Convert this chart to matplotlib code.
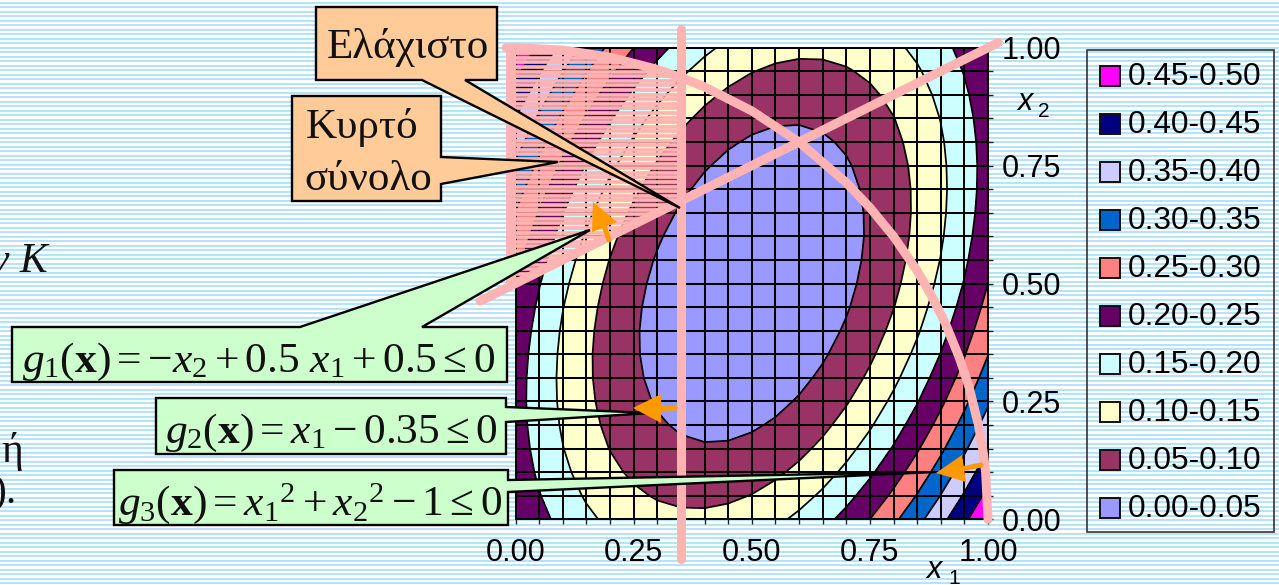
import numpy as np
import matplotlib
matplotlib.use("Agg")
import matplotlib.pyplot as plt
from matplotlib.patches import Polygon, Rectangle
from matplotlib.colors import ListedColormap, BoundaryNorm

plt.rcParams['font.family'] = ['Liberation Sans', 'DejaVu Sans']
plt.rcParams['mathtext.fontset'] = 'custom'
plt.rcParams['mathtext.rm'] = 'Liberation Serif'
plt.rcParams['mathtext.it'] = 'Liberation Serif:italic'
plt.rcParams['mathtext.bf'] = 'Liberation Serif:bold'

# ---- data ----
x1_grid = [0.00, 0.05, 0.10, 0.15, 0.20, 0.25, 0.30, 0.35, 0.40, 0.45, 0.50,
           0.55, 0.60, 0.65, 0.70, 0.75, 0.80, 0.85, 0.90, 0.95, 1.00]
x2_grid = list(x1_grid)
surface = [
 [.2500,.2150,.1850,.1600,.1400,.1250,.1150,.1100,.1100,.1150,.1250,.1400,.1600,.1850,.2150,.2500,.2900,.3350,.3850,.4400,.5000],
 [.2388,.2025,.1713,.1450,.1238,.1075,.0963,.0900,.0888,.0925,.1013,.1150,.1338,.1575,.1863,.2200,.2588,.3025,.3513,.4050,.4638],
 [.2300,.1925,.1600,.1325,.1100,.0925,.0800,.0725,.0700,.0725,.0800,.0925,.1100,.1325,.1600,.1925,.2300,.2725,.3200,.3725,.4300],
 [.2238,.1850,.1513,.1225,.0988,.0800,.0663,.0575,.0538,.0550,.0613,.0725,.0888,.1100,.1363,.1675,.2038,.2450,.2913,.3425,.3988],
 [.2200,.1800,.1450,.1150,.0900,.0700,.0550,.0450,.0400,.0400,.0450,.0550,.0700,.0900,.1150,.1450,.1800,.2200,.2650,.3150,.3700],
 [.2188,.1775,.1413,.1100,.0838,.0625,.0463,.0350,.0288,.0275,.0313,.0400,.0538,.0725,.0963,.1250,.1588,.1975,.2413,.2900,.3438],
 [.2200,.1775,.1400,.1075,.0800,.0575,.0400,.0275,.0200,.0175,.0200,.0275,.0400,.0575,.0800,.1075,.1400,.1775,.2200,.2675,.3200],
 [.2238,.1800,.1413,.1075,.0788,.0550,.0363,.0225,.0138,.0100,.0113,.0175,.0288,.0450,.0663,.0925,.1238,.1600,.2013,.2475,.2988],
 [.2300,.1850,.1450,.1100,.0800,.0550,.0350,.0200,.0100,.0050,.0050,.0100,.0200,.0350,.0550,.0800,.1100,.1450,.1850,.2300,.2800],
 [.2388,.1925,.1513,.1150,.0838,.0575,.0363,.0200,.0088,.0025,.0013,.0050,.0138,.0275,.0463,.0700,.0988,.1325,.1713,.2150,.2638],
 [.2500,.2025,.1600,.1225,.0900,.0625,.0400,.0225,.0100,.0025,.0000,.0025,.0100,.0225,.0400,.0625,.0900,.1225,.1600,.2025,.2500],
 [.2638,.2150,.1713,.1325,.0988,.0700,.0463,.0275,.0138,.0050,.0013,.0025,.0088,.0200,.0363,.0575,.0838,.1150,.1513,.1925,.2388],
 [.2800,.2300,.1850,.1450,.1100,.0800,.0550,.0350,.0200,.0100,.0050,.0050,.0100,.0200,.0350,.0550,.0800,.1100,.1450,.1850,.2300],
 [.2988,.2475,.2013,.1600,.1238,.0925,.0663,.0450,.0288,.0175,.0113,.0100,.0138,.0225,.0363,.0550,.0788,.1075,.1413,.1800,.2238],
 [.3200,.2675,.2200,.1775,.1400,.1075,.0800,.0575,.0400,.0275,.0200,.0175,.0200,.0275,.0400,.0575,.0800,.1075,.1400,.1775,.2200],
 [.3438,.2900,.2413,.1975,.1588,.1250,.0963,.0725,.0538,.0400,.0313,.0275,.0288,.0350,.0463,.0625,.0838,.1100,.1413,.1775,.2188],
 [.3700,.3150,.2650,.2200,.1800,.1450,.1150,.0900,.0700,.0550,.0450,.0400,.0400,.0450,.0550,.0700,.0900,.1150,.1450,.1800,.2200],
 [.3988,.3425,.2913,.2450,.2038,.1675,.1363,.1100,.0888,.0725,.0613,.0550,.0538,.0575,.0663,.0800,.0988,.1225,.1513,.1850,.2238],
 [.4300,.3725,.3200,.2725,.2300,.1925,.1600,.1325,.1100,.0925,.0800,.0725,.0700,.0725,.0800,.0925,.1100,.1325,.1600,.1925,.2300],
 [.4638,.4050,.3513,.3025,.2588,.2200,.1863,.1575,.1338,.1150,.1013,.0925,.0888,.0900,.0963,.1075,.1238,.1450,.1713,.2025,.2388],
 [.5000,.4400,.3850,.3350,.2900,.2500,.2150,.1850,.1600,.1400,.1250,.1150,.1100,.1100,.1150,.1250,.1400,.1600,.1850,.2150,.2500],
]
levels = [0.00, 0.05, 0.10, 0.15, 0.20, 0.25, 0.30, 0.35, 0.40, 0.45, 0.50]
band_colors = ['#9999FF', '#993366', '#FFFFCC', '#CCFFFF', '#660066',
               '#FF8080', '#0066CC', '#CCCCFF', '#000080', '#FF00FF']
band_labels = ['0.00-0.05', '0.05-0.10', '0.10-0.15', '0.15-0.20', '0.20-0.25',
               '0.25-0.30', '0.30-0.35', '0.35-0.40', '0.40-0.45', '0.45-0.50']
tick_labels = {0.00: '0.00', 0.25: '0.25', 0.50: '0.50', 0.75: '0.75', 1.00: '1.00'}

g1_x = [-0.075, 1.022]
g1_y = [0.4625, 1.011]
g2_x = [0.35, 0.35]
g2_y = [1.04, -0.085]
g3_x = [-0.02, 0.00, 0.10, 0.20, 0.30, 0.35, 0.40, 0.50, 0.60, 0.70, 0.75, 0.80, 0.85,
        0.88, 0.91, 0.94, 0.96, 0.98, 0.99, 0.995, 1.00]
g3_y = [1.00, 1.00, 0.995, 0.98, 0.954, 0.937, 0.917, 0.866, 0.80, 0.714, 0.661, 0.60, 0.527,
        0.475, 0.415, 0.341, 0.28, 0.199, 0.141, 0.10, 0.00]

FRAME = (515.5, 47.7, 988.0, 519.3)   # pixel box of the plot
STRIPE = '#AEE3F7'
PINK = '#FFB3B3'
ORANGE = '#FF9900'
SERIF = ['Liberation Serif', 'DejaVu Serif']
W, H = 1279, 585

fig = plt.figure(figsize=(W / 100, H / 100), dpi=100, facecolor='white')

# striped slide background
bg = fig.add_axes([0, 0, 1, 1], zorder=0)
bg.set_xlim(0, W); bg.set_ylim(H, 0); bg.axis('off')
bg.hlines(np.arange(2.5, H + 3, 4.5), 0, W, color=STRIPE, lw=1.35)

# contour chart
l, t, r, b = FRAME
ax = fig.add_axes([l / W, (H - b) / H, (r - l) / W, (b - t) / H], zorder=1)
ax.patch.set_alpha(0)
cmap = ListedColormap(band_colors)
norm = BoundaryNorm(levels, cmap.N)
ax.contourf(x1_grid, x2_grid, surface, levels=levels, cmap=cmap, norm=norm)
ax.contour(x1_grid, x2_grid, surface, levels=levels[1:-1], colors='black', linewidths=1.25)
ax.set_xlim(0, 1); ax.set_ylim(0, 1)
ax.set_xticks(x1_grid)
ax.set_yticks(x2_grid)
ax.set_xticklabels([tick_labels.get(round(v, 2), '') for v in x1_grid], fontsize=22)
ax.set_yticklabels([tick_labels.get(round(v, 2), '') for v in x2_grid], fontsize=22)
ax.yaxis.tick_right()
ax.tick_params(axis='both', length=3.5, width=1.0, color='#222222', labelcolor='black')
ax.tick_params(axis='x', pad=10)
ax.tick_params(axis='y', pad=6.5)
ax.grid(True, color='black', lw=1.45)
ax.set_axisbelow(False)
for s in ax.spines.values():
    s.set_linewidth(1.4)

# overlay in pixel coordinates
ov = fig.add_axes([0, 0, 1, 1], zorder=2)
ov.set_xlim(0, W); ov.set_ylim(H, 0); ov.axis('off'); ov.patch.set_alpha(0)

def px(x, y):
    return l + np.asarray(x) * (r - l), b - np.asarray(y) * (b - t)

# feasible region: pink bars over the contour, with thin gaps
cx, cy = px(np.array(g3_x), np.array(g3_y))
keep = np.asarray(g3_x) <= 0.35
top_x, top_y = cx[keep], cy[keep]
low_x, low_y = px(np.array([0.35, -0.02]), np.array([0.675, 0.49]))
region = np.column_stack([np.r_[top_x, low_x], np.r_[top_y, low_y]])
clip = Polygon(region, closed=True, transform=ov.transData, fc='none', ec='none')
ov.add_patch(clip)
bars = ov.hlines(np.arange(48.5, 300, 4.6), l, 681, color=PINK, lw=2.65, zorder=1)
bars.set_clip_path(clip)
strip = ov.fill_between([506, l + 0.5], 40, 300, color=PINK, lw=0, zorder=1)
strip.set_clip_path(clip)

# constraint curves
lkw = dict(color=PINK, solid_capstyle='round', solid_joinstyle='round', transform=ax.transData,
           clip_on=False, zorder=2)
ov.plot(g1_x, g1_y, lw=6.5, **lkw)
ov.plot(g2_x, g2_y, lw=6.5, **lkw)
ov.plot(g3_x, g3_y, lw=6.5, **lkw)
ov.set_xlim(0, W); ov.set_ylim(H, 0)

# orange arrows
def arrow(tail, tip, wing1, wing2):
    ov.plot([tail[0], (wing1[0] + wing2[0]) / 2], [tail[1], (wing1[1] + wing2[1]) / 2],
            color=ORANGE, lw=3.6, solid_capstyle='round', zorder=4)
    ov.add_patch(Polygon([tip, wing1, wing2], closed=True, fc=ORANGE, ec='none', zorder=4))

# callouts
def callout(points, face):
    ov.add_patch(Polygon(points, closed=True, fc=face, ec='black', lw=1.7, joinstyle='miter', zorder=3))

ORANGE_BOX = '#FFCC99'
GREEN_BOX = '#CCFFCC'
callout([(316, 7), (497, 7), (497, 80), (465, 80), (680, 208), (422, 80), (316, 80)], ORANGE_BOX)
callout([(292, 96), (441, 96), (441, 157), (558, 162), (441, 184), (441, 201), (292, 201)], ORANGE_BOX)
callout([(12, 327), (300, 327), (590, 230), (422, 327), (507, 327), (507, 382), (12, 382)], GREEN_BOX)
callout([(156, 398), (506, 398), (506, 407), (652, 413), (506, 422), (506, 454), (156, 454)], GREEN_BOX)
callout([(114, 470), (508, 470), (508, 480), (935, 472), (508, 492), (508, 525), (114, 525)], GREEN_BOX)

arrow((609, 240), (593, 202), (592, 232), (617, 222))
arrow((675, 408), (633, 408), (661, 394), (661, 423))
arrow((981, 465), (936, 473), (962, 455), (966, 482))

# texts in callouts
ts = dict(family=SERIF, va='baseline', ha='left', color='#111111', zorder=5)
ov.text(327, 58, 'Ελάχιστο', fontsize=31, **ts)
ov.text(306, 138, 'Κυρτό', fontsize=31, **ts)
ov.text(304, 190, 'σύνολο', fontsize=31, **ts)
eq = [(22, 372, r'$g_1(\mathbf{x}) = -x_2 + 0.5\ x_1 + 0.5 \leq 0$', (12, 327, 495, 55)),
      (165, 443, r'$g_2(\mathbf{x}) = x_1 - 0.35 \leq 0$', (156, 398, 350, 56)),
      (118, 515, r'$g_3(\mathbf{x}) = {x_1}^2 + {x_2}^2 - 1 \leq 0$', (114, 470, 394, 55))]
for ex, ey, s, box in eq:
    tt = ov.text(ex, ey, s, fontsize=31.3, **ts)
    tt.set_clip_path(Rectangle(box[:2], box[2], box[3], transform=ov.transData))

# fragments of slide text at the left edge
ov.text(48, 272, 'ν Κ', fontsize=30, family=SERIF, style='italic', ha='right', va='baseline', color='#111111')
ov.text(23, 462, 'ή', fontsize=30, family=SERIF, ha='right', va='baseline', color='#111111')
ov.text(17, 503, ').', fontsize=30, family=SERIF, ha='right', va='baseline', color='#111111')

# axis names
ov.text(926, 578, 'x', fontsize=22, style='italic', va='baseline', ha='left', color='black')
ov.text(948, 584.5, '1', fontsize=15, va='baseline', ha='left', color='black')
ov.text(1017, 110, 'x', fontsize=22, style='italic', va='baseline', ha='left', color='black')
ov.text(1038, 117, '2', fontsize=15, va='baseline', ha='left', color='black')

# legend
ov.add_patch(Rectangle((1087, 50), 187, 482, fc='none', ec='#333333', lw=1.2, zorder=3))
for i, (lab, col) in enumerate(zip(band_labels[::-1], band_colors[::-1])):
    yc = 76 + i * 48
    ov.add_patch(Rectangle((1100, yc - 10), 20, 20, fc=col, ec='#111111', lw=1.4, zorder=3))
    ov.text(1128, yc + 9, lab, fontsize=22.8, va='baseline', ha='left', color='black', zorder=3)

fig.savefig('out.png', dpi=100)
